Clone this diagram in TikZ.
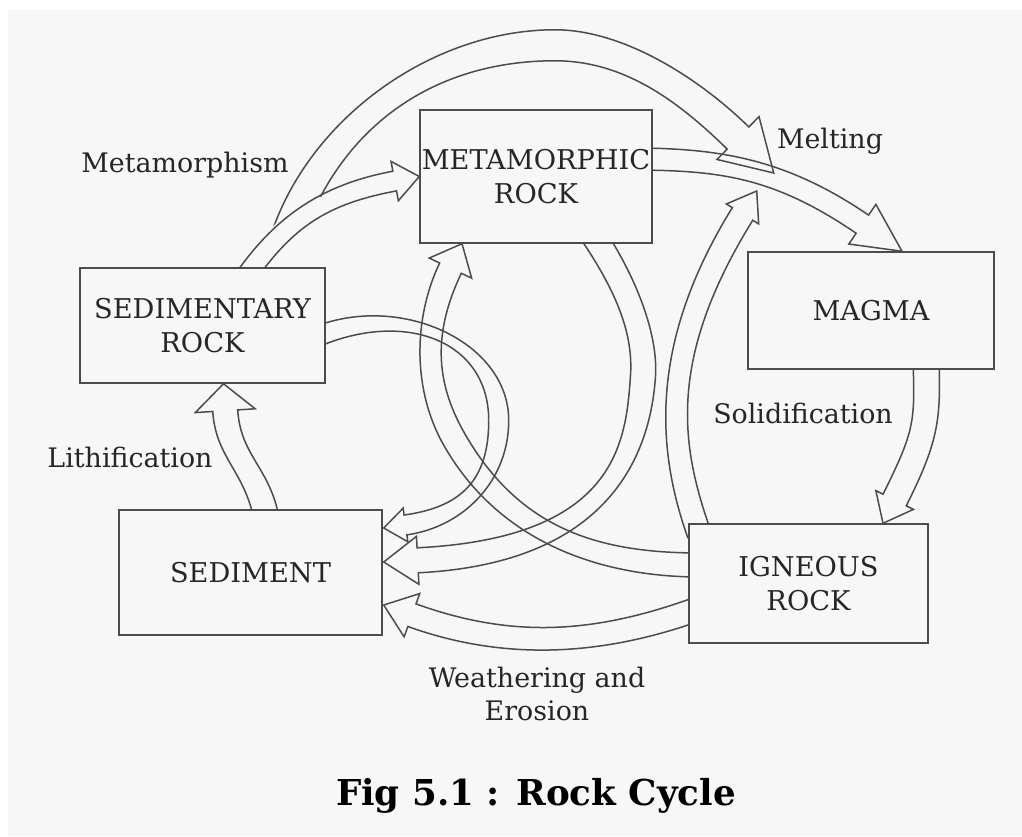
\documentclass[tikz,border=0pt]{standalone}
\usepackage{fontspec}
\setmainfont{DejaVu Serif}
\usetikzlibrary{calc}
\definecolor{rockline}{gray}{0.3}
\definecolor{rocktext}{gray}{0.15}
\definecolor{rockbg}{gray}{0.97}
\tikzset{rockbox/.style={draw=rockline, line width=0.03cm, inner sep=0pt, align=center, text=rocktext, font=\fontsize{15.5}{19}\selectfont}}
\tikzset{rocklabel/.style={inner sep=0pt, align=center, text=rocktext, font=\fontsize{15.3}{19}\selectfont}}
\tikzset{rockedge/.style={draw=rockline, line width=0.03cm, line join=miter}}

% hollow arrow body: #1 width (px), #2 start, #3 first control (relative), #4 second control (relative to end), #5 end
\newcommand{\rockshaft}[5]{%
  \pgfmathsetlengthmacro{\rkd}{#1/2*0.02cm}%
  \coordinate (rk0) at (#2);
  \coordinate (rk1) at ($(rk0)+(#3)$);
  \coordinate (rk3) at (#5);
  \coordinate (rk2) at ($(rk3)+(#4)$);
  \draw[rockedge] ($(rk0)!\rkd!90:(rk1)$) .. controls ($(rk1)+($(rk0)!\rkd!90:(rk1)$)-(rk0)$) and ($(rk2)+($(rk3)!\rkd!-90:(rk2)$)-(rk3)$) .. ($(rk3)!\rkd!-90:(rk2)$);
  \draw[rockedge] ($(rk0)!\rkd!-90:(rk1)$) .. controls ($(rk1)+($(rk0)!\rkd!-90:(rk1)$)-(rk0)$) and ($(rk2)+($(rk3)!\rkd!90:(rk2)$)-(rk3)$) .. ($(rk3)!\rkd!90:(rk2)$);
}
% hollow arrow with head: #1 width, #2 head length, #3 head width, #4 start, #5 #6 controls, #7 tip
\newcommand{\rockhead}[7]{%
  \pgfmathsetlengthmacro{\rkd}{#1/2*0.02cm}%
  \pgfmathsetlengthmacro{\rkhl}{#2*0.02cm}%
  \pgfmathsetlengthmacro{\rkhw}{#3/2*0.02cm}%
  \coordinate (rk0) at (#4);
  \coordinate (rk1) at ($(rk0)+(#5)$);
  \coordinate (rkt) at (#7);
  \coordinate (rkq) at ($(rkt)+(#6)$);
  \coordinate (rk3) at ($(rkt)!\rkhl!(rkq)$);
  \coordinate (rk2) at ($(rkq)+(rk3)-(rkt)$);
  \coordinate (rkl0) at ($(rk0)!\rkd!90:(rk1)$);
  \coordinate (rkr0) at ($(rk0)!\rkd!-90:(rk1)$);
  \coordinate (rkl3) at ($(rk3)!\rkd!-90:(rk2)$);
  \coordinate (rkr3) at ($(rk3)!\rkd!90:(rk2)$);
  \draw[rockedge] (rkl0) .. controls ($(rk1)+(rkl0)-(rk0)$) and ($(rk2)+(rkl3)-(rk3)$) .. (rkl3)
    -- ($(rk3)!\rkhw!-90:(rk2)$) -- (rkt) -- ($(rk3)!\rkhw!90:(rk2)$)
    -- (rkr3) .. controls ($(rk2)+(rkr3)-(rk3)$) and ($(rk1)+(rkr0)-(rk0)$) .. (rkr0);
}

\begin{document}
\begin{tikzpicture}[x=0.02cm, y=-0.02cm]
    \fill[white] (0,0) rectangle (1022,836);
    \fill[rockbg] (8,10) rectangle (1022,836);

    \node[rockbox, minimum width=4.64cm, minimum height=2.66cm] (met) at (536,176.5) {METAMORPHIC\\ROCK};
    \node[rockbox, minimum width=4.9cm, minimum height=2.3cm] (sedrock) at (202.5,325.5) {SEDIMENTARY\\ROCK};
    \node[rockbox, minimum width=5.26cm, minimum height=2.5cm] (sed) at (250.5,572.5) {SEDIMENT};
    \node[rockbox, minimum width=4.92cm, minimum height=2.34cm] (magma) at (871,310.5) {MAGMA};
    \node[rockbox, minimum width=4.78cm, minimum height=2.38cm] (ign) at (808.5,583.5) {IGNEOUS\\ROCK};

    \node[rocklabel, anchor=base] (metamorphism) at (185,172) {Metamorphism};
    \node[rocklabel, anchor=base] (melting) at (830,148) {Melting};
    \node[rocklabel, anchor=base] (solidification) at (803,423) {Solidification};
    \node[rocklabel, anchor=base] (lithification) at (130,467) {Lithification};
    \node[rocklabel] (weathering) at (537,694) {Weathering and\\Erosion};
    \node[anchor=base, inner sep=0pt, font=\bfseries\fontsize{20.3}{24}\selectfont] (title) at (536,805) {Fig 5.1 : Rock Cycle};

    \begin{scope}
        \clip (0,0) rectangle (1022,836)
            (met.south west) rectangle (met.north east)
            (sedrock.south west) rectangle (sedrock.north east)
            (sed.south west) rectangle (sed.north east)
            (magma.south west) rectangle (magma.north east)
            (ign.south west) rectangle (ign.north east);
        % lithification, metamorphism
        \rockhead{25}{27}{60}{$(sed.north)+(16.5,12)$}{-9,-52}{3,47}{$(sedrock.south)+(21,0)$}
        \rockhead{20}{25}{40}{$(sedrock.north)+(43.5,9)$}{39,-55}{-70,13}{met.west}
        % melting
        \begin{scope}
            \clip (150,330) -- (238,267) -- (283,215) -- (320,197) -- (393,177) -- (600,177) -- (900,260) -- (900,0) -- (150,0) -- cycle;
            \rockshaft{31}{$(sedrock.north)+(83,-27)$}{38,-117}{-123,0}{$(met.north)+(19,-64)$}
        \end{scope}
        \rockhead{31}{50}{60}{$(met.north)+(19,-64)$}{69,0}{-49,-48}{$(met.east)+(121,-3.5)$}
        \rockhead{22}{48}{48}{$(met.east)+(-12,-17.5)$}{80,1}{-82,-56}{$(magma.north)+(31,0)$}
        \rockhead{24}{27}{38}{$(ign.north west)+(11,11)$}{-30,-85}{-86,139}{$(met.east)+(104,14.5)$}
        % solidification
        \rockhead{26}{26}{42}{$(magma.south)+(55,-10)$}{2,61}{32,-64}{$(ign.north)+(74.5,0)$}
        % weathering and erosion
        \rockshaft{20}{$(sedrock.east)+(-12,12.5)$}{87,-38}{0,-80}{$(sedrock.east)+(173,95)$}
        \rockhead{20}{22}{34}{$(sedrock.east)+(173,95)$}{0,60}{57,-8}{$(sed.east)+(1,-44.5)$}
        \rockshaft{25}{$(met.south)+(57,-9)$}{30,45}{3,-45}{$(met.south)+(107,132)$}
        \rockhead{25}{34}{48}{$(met.south)+(107,132)$}{-4.5,67.5}{200,-10}{$(sed.east)+(1,-10.5)$}
        \rockhead{24}{30}{46}{$(ign.west)+(12,24.5)$}{-101,37}{97,35}{$(sed.east)+(1,32.5)$}
        \rockshaft{24}{$(ign.west)+(12,-18.5)$}{-101,0}{55,95}{$(met.south)+(-81,197)$}
        \rockhead{24}{27}{47}{$(met.south)+(-81,197)$}{-32,-55}{-27,57}{$(met.south)+(-74,0)$}
    \end{scope}
\end{tikzpicture}
\end{document}
